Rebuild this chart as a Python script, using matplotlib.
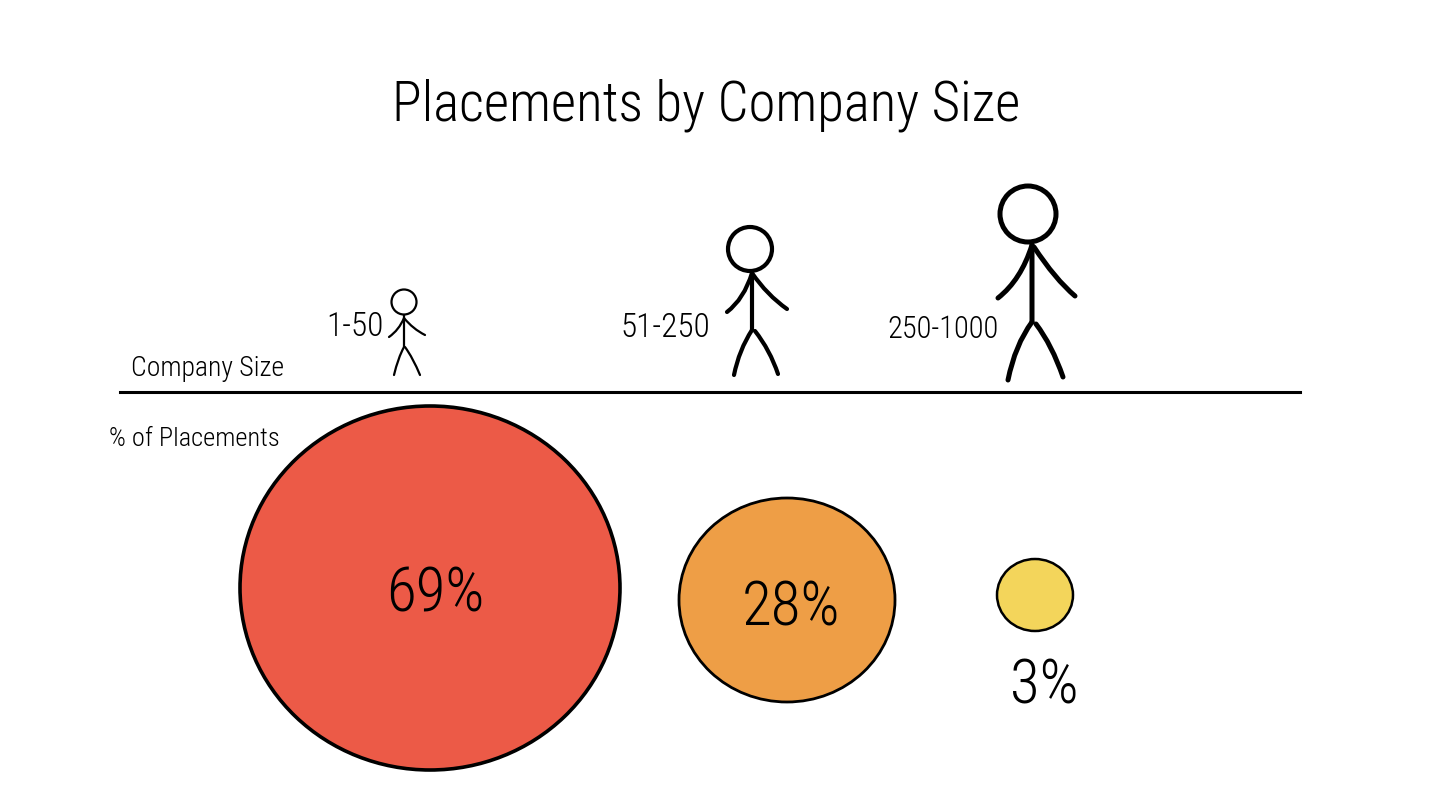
import matplotlib
matplotlib.use('Agg')
import matplotlib.pyplot as plt
from matplotlib.patches import Ellipse, PathPatch
from matplotlib.path import Path

plt.rcParams['font.family'] = ['Roboto Condensed', 'DejaVu Sans']

title = 'Placements by Company Size'
size_labels = ['1-50', '51-250', '250-1000']
placements = [69, 28, 3]
colors = ['#ec5a47', '#ee9e46', '#f3d55b']

# layout in pixels, picture is 1456x785
circle_x = [430, 787, 1035]
circle_y = [588, 600, 595]
circle_w = [380, 216, 76]
circle_h = [364, 204, 72]
pct_x = [435, 791, 1044]
pct_y = [595, 609, 687]
pct_size = [44, 44, 44]
circle_lw = [2.6, 2, 1.8]

# limbs are start, bend, end
people = [
    dict(head=(404, 302, 12.5),
         limbs=[[(404, 315), (404, 331), (404, 347)],
                [(404, 318), (399, 330), (389, 337)],
                [(404, 318), (413, 329), (425, 335)],
                [(404, 347), (398, 358), (394, 375)],
                [(405, 347), (413, 358), (420, 375)]], lw=1.6),
    dict(head=(750, 249, 22),
         limbs=[[(752, 271), (752, 300), (752, 330)],
                [(752, 273), (744, 299), (727, 312)],
                [(752, 273), (767, 295), (787, 309)],
                [(752, 330), (739, 350), (734, 375)],
                [(755, 331), (770, 350), (778, 374)]], lw=3),
    dict(head=(1028, 214, 28),
         limbs=[[(1032, 245), (1032, 284), (1032, 322)],
                [(1032, 245), (1021, 280), (998, 298)],
                [(1034, 247), (1055, 279), (1075, 296)],
                [(1032, 322), (1015, 345), (1008, 380)],
                [(1036, 324), (1052, 345), (1063, 377)]], lw=3.6),
]
label_pos = [(355, 327, 24), (665, 328, 24), (943, 330, 22)]

fig = plt.figure(figsize=(14.56, 7.85), dpi=100)
ax = fig.add_axes([0, 0, 1, 1])
ax.set_xlim(0, 1456)
ax.set_ylim(785, 0)
ax.axis('off')

ax.text(706, 105, title, ha='center', va='center', fontsize=39.5, fontweight='light', color='black')

# baseline
ax.plot([120, 1300], [392, 392], color='black', lw=2.2)
ax.text(208, 369, 'Company Size', ha='center', va='center', fontsize=20, fontweight='light', color='black')
ax.text(194, 439, '% of Placements', ha='center', va='center', fontsize=19, fontweight='light', color='black')

for p, (lx, ly, fs), lab in zip(people, label_pos, size_labels):
    hx, hy, hr = p['head']
    ax.add_patch(Ellipse((hx, hy), hr * 2, hr * 2, fc='white', ec='black', lw=p['lw']))
    for limb in p['limbs']:
        path = Path(limb, [Path.MOVETO, Path.CURVE3, Path.CURVE3])
        ax.add_patch(PathPatch(path, fc='none', ec='black', lw=p['lw'], capstyle='round'))
    ax.text(lx, ly, lab, ha='center', va='center', fontsize=fs, fontweight='light', color='black')

for i, val in enumerate(placements):
    ax.add_patch(Ellipse((circle_x[i], circle_y[i]), circle_w[i], circle_h[i],
                         fc=colors[i], ec='black', lw=circle_lw[i]))
    ax.text(pct_x[i], pct_y[i], f'{val}%', ha='center', va='center', fontsize=pct_size[i], fontweight='light', color='black')

fig.savefig('out.png', dpi=100, facecolor='white')
